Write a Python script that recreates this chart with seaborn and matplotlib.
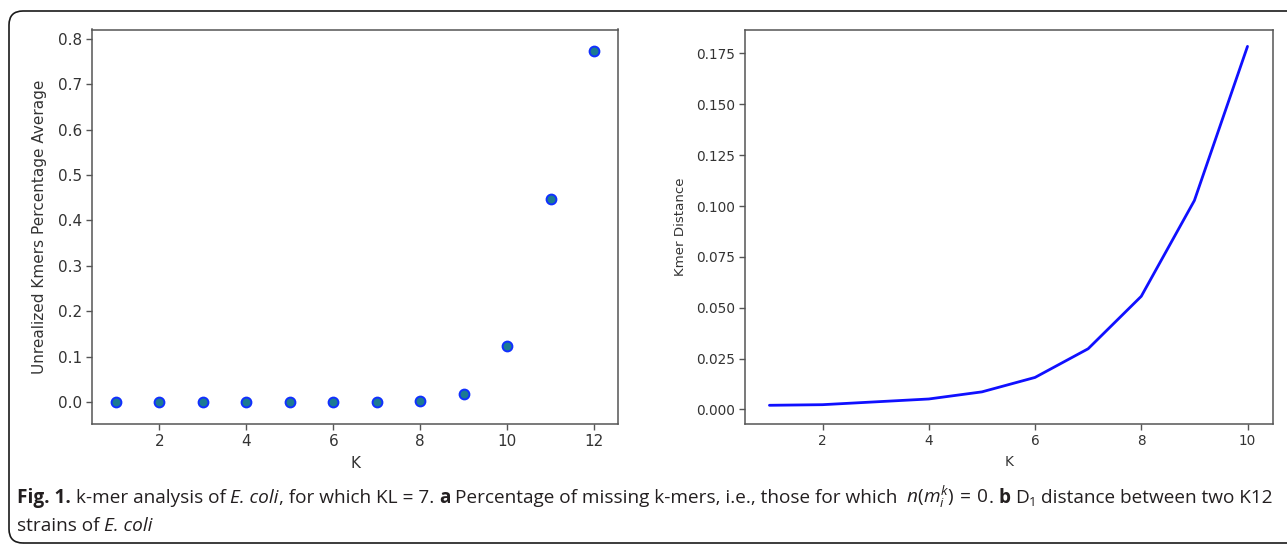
import matplotlib
matplotlib.use("Agg")
import matplotlib.pyplot as plt
import matplotlib.transforms as mtransforms
from matplotlib.patches import FancyBboxPatch
import seaborn as sns
import pandas as pd

# ---------------- data ----------------
k_left = [1, 2, 3, 4, 5, 6, 7, 8, 9, 10, 11, 12]
unrealized_pct = [0.0, 0.0, 0.0, 0.0, 0.0, 0.0, 0.0, 0.003, 0.0175, 0.125, 0.447, 0.774]

k_right = [1, 2, 3, 4, 5, 6, 7, 8, 9, 10]
kmer_distance = [0.0020, 0.0023, 0.0037, 0.0051, 0.0086, 0.0157, 0.0298, 0.0556, 0.1027, 0.1785]

left_xticks = [2, 4, 6, 8, 10, 12]
left_yticks = [0.0, 0.1, 0.2, 0.3, 0.4, 0.5, 0.6, 0.7, 0.8]
right_xticks = [2, 4, 6, 8, 10]
right_yticks = [0.0, 0.025, 0.05, 0.075, 0.1, 0.125, 0.15, 0.175]

left_ylabel = "Unrealized Kmers Percentage Average"
right_ylabel = "Kmer Distance"
xlabel = "K"

# ---------------- style ----------------
sns.set_style("ticks")
plt.rcParams["font.family"] = ["DejaVu Sans"]
plt.rcParams["mathtext.fontset"] = "custom"
plt.rcParams["mathtext.rm"] = "Open Sans"
plt.rcParams["mathtext.it"] = "Open Sans:italic"
plt.rcParams["mathtext.bf"] = "Open Sans:bold"

W, H = 1287, 544
fig = plt.figure(figsize=(W / 100, H / 100), dpi=100)
fig.patch.set_facecolor("white")

ax1 = fig.add_axes([92 / W, 1 - 424 / H, (618 - 92) / W, (424 - 29.5) / H])
ax2 = fig.add_axes([745 / W, 1 - 424 / H, (1273 - 745) / W, (424 - 29.5) / H])

df1 = pd.DataFrame({"K": k_left, "v": unrealized_pct})
df2 = pd.DataFrame({"K": k_right, "d": kmer_distance})

sns.scatterplot(data=df1, x="K", y="v", ax=ax1, s=50, color="#1c7a92",
                edgecolor="#1030ff", linewidth=1.4, zorder=3)
sns.lineplot(data=df2, x="K", y="d", ax=ax2, color="#1010ff", linewidth=2.0)

ax1.set_xlim(0.45, 12.55)
ax1.set_ylim(-0.0477, 0.8202)
ax2.set_xlim(0.54, 10.48)
ax2.set_ylim(-0.0072, 0.1868)

ax1.set_xticks(left_xticks)
ax1.set_yticks(left_yticks)
ax1.set_yticklabels([f"{v:.1f}" for v in left_yticks])
ax2.set_xticks(right_xticks)
ax2.set_yticks(right_yticks)
ax2.set_yticklabels([f"{v:.3f}" for v in right_yticks])

for ax, fs in [(ax1, 11.0), (ax2, 9.8)]:
    for sp in ax.spines.values():
        sp.set_visible(True)
        sp.set_color("#555555")
        sp.set_linewidth(1.1)
    ax.tick_params(axis="both", direction="out", length=4, width=1.0,
                   color="#555555", labelcolor="#333333", labelsize=fs, pad=3)
    ax.set_xlabel(xlabel, fontsize=fs, color="#333333", labelpad=5)

ax1.set_ylabel(left_ylabel, fontsize=11.0, color="#333333", labelpad=8)
ax2.set_ylabel(right_ylabel, fontsize=9.6, color="#333333", labelpad=7)

# ---------------- outer rounded frame ----------------
px = mtransforms.IdentityTransform()
frame = FancyBboxPatch((9, 1), 1320, 532, boxstyle="round,pad=0,rounding_size=14",
                       transform=px, fill=False, edgecolor="#1a1a1a", linewidth=1.2)
fig.add_artist(frame)

# ---------------- caption ----------------
renderer = fig.canvas.get_renderer()

line1 = [
    ("Fig. 1.", "bold", "normal", True),
    ("k-mer analysis of", "normal", "normal", True),
    ("E. coli", "normal", "italic", False),
    (", for which KL = 7.", "normal", "normal", True),
    ("a", "bold", "normal", True),
    ("Percentage of missing k-mers, i.e., those for which", "normal", "normal", True),
    (r"$\;n(m_i^k)\,=\,0$", "normal", "normal", False),
    (".", "normal", "normal", True),
    ("b", "bold", "normal", True),
    (r"D$_1$", "normal", "normal", True),
    ("distance between two K12", "normal", "normal", False),
]
line2 = [
    ("strains of", "normal", "normal", True),
    ("E. coli", "normal", "italic", False),
]


def place(tokens, x0, y, size):
    arts = []
    x = x0
    sp = fig.text(0, 0, "a a", fontsize=size, family="Open Sans", transform=px)
    sp2 = fig.text(0, 0, "aa", fontsize=size, family="Open Sans", transform=px)
    space = sp.get_window_extent(renderer).width - sp2.get_window_extent(renderer).width
    sp.remove()
    sp2.remove()
    for s, w, st, gap in tokens:
        t = fig.text(x, y, s, fontsize=size, family="Open Sans", weight=w,
                     style=st, color="#231f20", transform=px, va="baseline", ha="left")
        x += t.get_window_extent(renderer).width
        if gap:
            x += space
        arts.append(t)
    return arts, x


x_start, x_end = 17, 1276
size = 11.0
arts, xe = place(line1, x_start, H - 503, size)
for a in arts:
    a.remove()
size = size * (x_end - x_start) / (xe - x_start)
place(line1, x_start, H - 503, size)
place(line2, x_start, H - 531, size)

fig.savefig("out.png", dpi=100, facecolor="white")
